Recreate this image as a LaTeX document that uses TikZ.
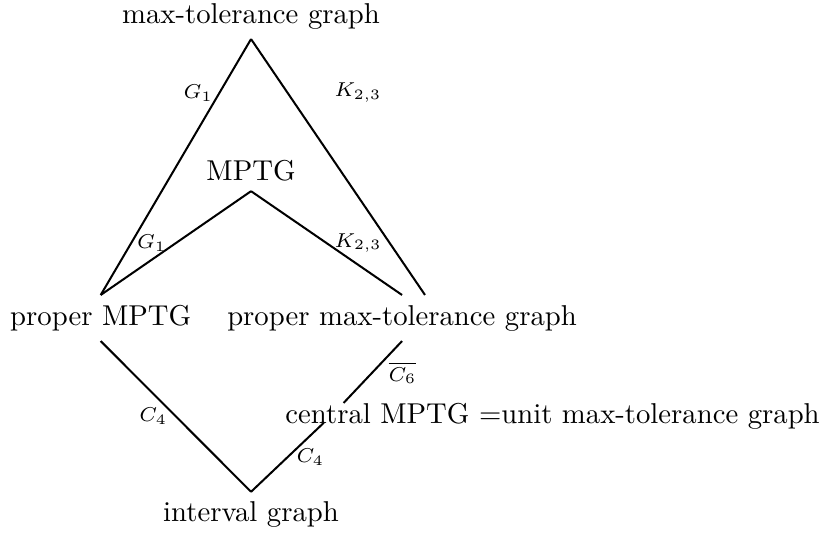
\documentclass[tikz,border=0pt]{standalone}
\usepackage{amsmath,amssymb}
\usetikzlibrary{positioning}

\begin{document}
\begin{tikzpicture}[
  cls/.style={inner sep=3.33pt, align=center},
  lbl/.style={font=\scriptsize, inner sep=1pt},
  edge/.style={line width=0.7pt}
]
  \useasboundingbox (0,0) rectangle (10.139,-6.527);

  % graph classes
  \node[cls] (mtg) at (3.074,-0.196) {max-tolerance graph};
  \node[cls] (mptg) at (3.074,-2.089) {MPTG};
  \node[cls] (pm) at (1.233,-3.894) {proper MPTG};
  \node[cls] (pmt) at (4.923,-3.894) {proper max-tolerance graph};
  \node[cls] (cen) at (6.766,-5.104) {central MPTG =unit max-tolerance graph};
  \node[cls] (ig) at (3.074,-6.304) {interval graph};
  \node[inner sep=3.33pt] (cmid) at (4.090,-5.058) {};

  % inclusions
  \draw[edge] (mtg.south) -- node[lbl, pos=.21, left=1pt] {$G_1$} (pm.north);
  \draw[edge] (mtg.south) -- node[lbl, pos=.21, right=15pt] {$K_{2,3}$} ([xshift=8pt]pmt.north);
  \draw[edge] (mptg.south) -- node[lbl, left=2pt] {$G_1$} (pm.north);
  \draw[edge] (mptg.south) -- node[lbl, right=1.5pt] {$K_{2,3}$} (pmt.north);
  \draw[edge] (pm.south) -- node[lbl, left=1.7pt] {$C_4$} (ig.north);
  \draw[edge] (pmt.south) -- node[lbl, pos=.52, right=4.6pt] {$\overline{C_6}$} (cmid);
  \draw[edge] (cmid) -- node[lbl, right=1.8pt] {$C_4$} (ig.north);
\end{tikzpicture}
\end{document}
